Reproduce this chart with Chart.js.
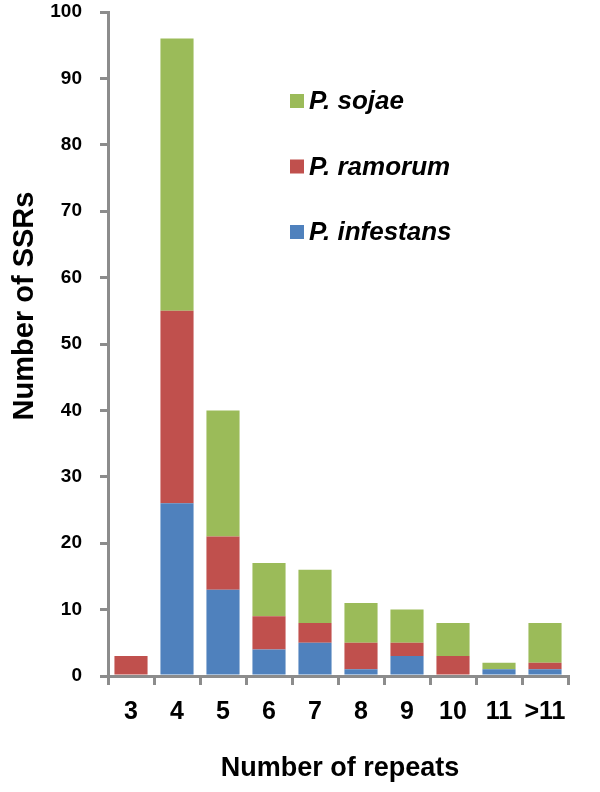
<!DOCTYPE html>
<html>
<head>
<meta charset="utf-8">
<script src="https://cdn.jsdelivr.net/npm/chart.js@4"></script>
<style>
  body { margin: 0; background: #fff; }
  #wrap { width: 600px; height: 792px; }
</style>
</head>
<body>
<div id="wrap"><canvas id="myChart" width="600" height="792"></canvas></div>
<script>
const ctx = document.getElementById("myChart").getContext("2d");

// values
const labels = ['3', '4', '5', '6', '7', '8', '9', '10', '11', '>11'];
const infestans = [0, 26, 13, 4, 5, 1, 3, 0, 1, 1];
const ramorum   = [3, 29, 8, 5, 3, 4, 2, 3, 0, 1];
const sojae     = [0, 41, 19, 8, 8, 6, 5, 5, 1, 6];
const yTicks = [0, 10, 20, 30, 40, 50, 60, 70, 80, 90, 100];

const axisGray = '#8c8c8c';
const font = 'Liberation Sans, Arial, sans-serif';

// legend drawn inside the plot, top entry first
const legendBox = {
  id: 'legendBox',
  afterDraw(chart) {
    const c = chart.ctx;
    const sets = chart.data.datasets.slice().reverse();
    c.save();
    c.font = 'italic bold 26px ' + font;
    c.textBaseline = 'middle';
    sets.forEach((ds, i) => {
      const y = 101 + i * 65.5;
      c.fillStyle = ds.backgroundColor;
      c.fillRect(290, y - 7, 14, 14);
      c.fillStyle = '#000';
      c.fillText(ds.label, 309, y + 1);
    });
    c.restore();
  }
};

// axis titles
const titles = {
  id: 'titles',
  afterDraw(chart) {
    const c = chart.ctx;
    c.save();
    c.fillStyle = '#000';
    c.font = 'bold 27px ' + font;
    c.textAlign = 'center';
    c.textBaseline = 'middle';
    c.fillText('Number of repeats', 340, 769);
    c.font = 'bold 29px ' + font;
    c.translate(25, 306);
    c.rotate(-Math.PI / 2);
    c.fillText('Number of SSRs', 0, 0);
    c.restore();
  }
};

const data = {
  labels,
  datasets: [
    { label: 'P. infestans', data: infestans, backgroundColor: '#4F81BD' },
    { label: 'P. ramorum', data: ramorum, backgroundColor: '#C0504D' },
    { label: 'P. sojae', data: sojae, backgroundColor: '#9BBB59' },
  ],
};

const config = {
  type: 'bar',
  data: data,
  options: {
    responsive: false,
    animation: false,
    barPercentage: 0.72,
    categoryPercentage: 1,
    layout: { padding: { top: 12, right: 32, left: 0, bottom: 0 } },
    plugins: {
      legend: { display: false },
      tooltip: { enabled: false },
    },
    scales: {
      x: {
        stacked: true,
        afterFit: (s) => { s.height = 116; s.paddingLeft = 0; s.paddingRight = 0; },
        grid: {
          offset: true,
          drawOnChartArea: false,
          drawTicks: true,
          tickLength: 9,
          color: axisGray,
          lineWidth: 3,
        },
        border: { display: true, color: axisGray, width: 3 },
        ticks: {
          color: '#000',
          padding: 12,
          maxRotation: 0,
          minRotation: 0,
          autoSkip: false,
          font: { family: font, size: 25, weight: 'bold' },
        },
      },
      y: {
        stacked: true,
        min: 0,
        max: 100,
        afterFit: (s) => { s.width = 108; s.paddingTop = 0; s.paddingBottom = 0; },
        afterBuildTicks: (s) => { s.ticks = yTicks.map(v => ({ value: v })); },
        grid: {
          drawOnChartArea: false,
          drawTicks: true,
          tickLength: 8,
          color: axisGray,
          lineWidth: 3,
        },
        border: { display: true, color: axisGray, width: 3 },
        ticks: {
          color: '#000',
          padding: 18,
          font: { family: font, size: 19, weight: 'bold' },
        },
      },
    },
  },
  plugins: [legendBox, titles],
};

const myChart = new Chart(ctx, config);
</script>
</body>
</html>
